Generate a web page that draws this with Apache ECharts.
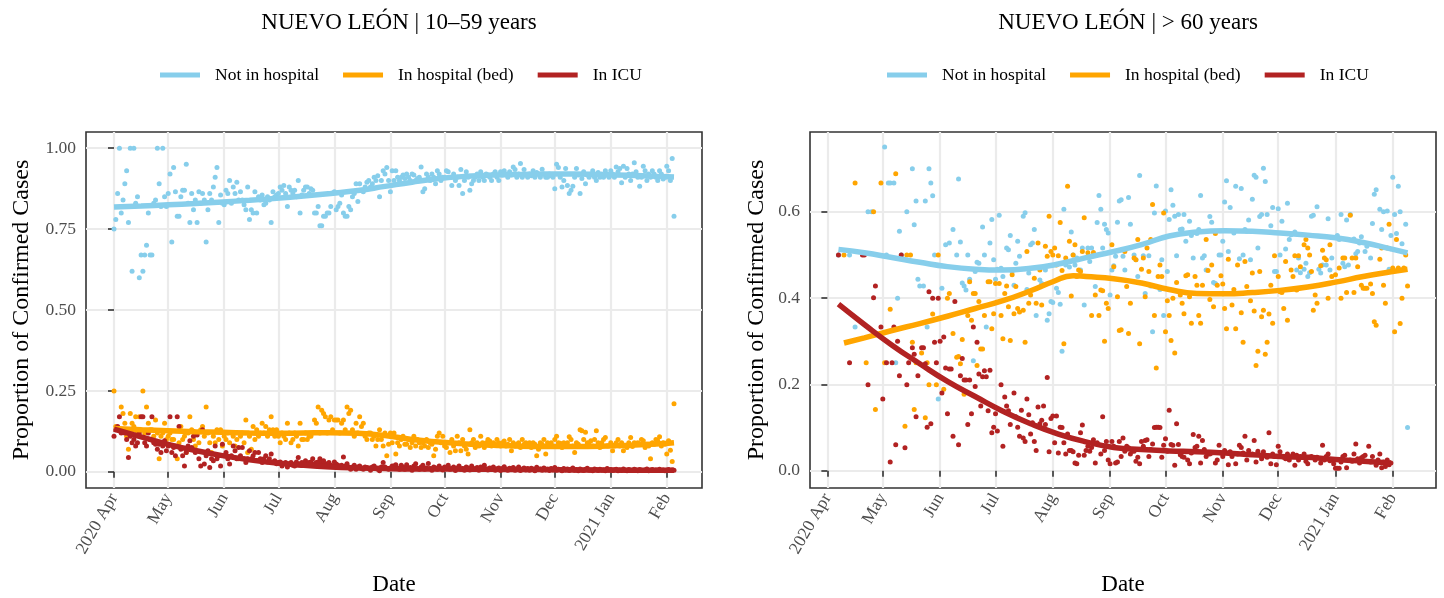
<!DOCTYPE html>
<html>
<head>
<meta charset="utf-8">
<title>Nuevo León</title>
<script src="https://cdn.jsdelivr.net/npm/echarts@6/dist/echarts.min.js"></script>
<style>
  html, body { margin: 0; padding: 0; background: #fff; }
  #container { width: 1444px; height: 598px; }
</style>
</head>
<body>
<div id="container"></div>
<script>
var _ = null

var startDate = '2020-04-01'
var monthTicks = ['2020-04-01', '2020-05-01', '2020-06-01', '2020-07-01', '2020-08-01', '2020-09-01',
  '2020-10-01', '2020-11-01', '2020-12-01', '2021-01-01', '2021-02-01']
var monthLabels = ['2020 Apr', 'May', 'Jun', 'Jul', 'Aug', 'Sep', 'Oct', 'Nov', 'Dec', '2021 Jan', 'Feb']
var statusNames = ['Not in hospital', 'In hospital (bed)', 'In ICU']
var panelTitles = ['NUEVO LEÓN | 10–59 years', 'NUEVO LEÓN | > 60 years']
var youngTicks = [0, 0.25, 0.5, 0.75, 1]
var oldTicks = [0, 0.2, 0.4, 0.6]

// 10-59 years, daily proportions (%) from day 0 = 2020-04-01
var youngStart = 0
var youngHome = [
  75, 78, 86, 100, 80, 84, 89, 93, 77, 100,
  62, 100, 83, 85, 60, 67, 62, 67, 70, 80,
  67, 67, 83, 84, 100, 89, 82, 100, 85, 82,
  86, 92, 71, 94, 86.5, 79, 79, 85, 87, 87,
  95, 83, 77, 86, 81, 84, 77, 86.5, 83, 86,
  84, 71, 81, 86, 84, 88, 91, 94, 77, 85.5,
  83, 82.5, 87, 86, 90, 83, 88, 86, 89.5, 84,
  86.5, 84, 82.5, 81, 88, 78, 81, 80, 86.5, 80,
  85, 84, 85.5, 82.5, 83, 85, 84, 77, 86.5, 85,
  85.5, 86, 88, 87, 88.5, 86, 82, 88, 87, 86,
  87, 85, 90, 80, 85.5, 87, 88, 88, 86, 87.5,
  87, 80, 80, 82, 76, 76, 79, 79, 80, 80,
  82, 86, 86.5, 81, 82, 83, 85.5, 80, 79, 79,
  82, 81, 85, 86, 89, 83.5, 89, 87, 86.5, 88,
  89.5, 90, 88, 89, 91, 90, 91.5, 85, 90, 93,
  92, 94, 90, 86.5, 93, 90, 93, 91, 90, 91,
  91.7, 90.6, 92, 91, 90, 92, 91.7, 90, 90.6, 91,
  94.2, 86.5, 87.5, 92, 91, 90, 92, 91, 89, 93,
  92, 90, 91, 91, 93, 92.7, 91, 88.5, 92, 90,
  91, 88.5, 93.4, 86, 90, 92.7, 91, 87, 89, 90,
  91, 92, 90, 92.7, 91, 90, 92, 91.7, 91, 90,
  92, 92.7, 91, 90, 92.7, 91.7, 93, 92, 91, 92.7,
  91.7, 94.2, 93.4, 91, 92, 95.3, 91, 93.4, 91.7, 91,
  92, 91.5, 93, 91, 92.5, 92, 91, 93.5, 92, 91,
  91, 92, 91.5, 91, 87.5, 95, 94, 91, 88, 90,
  93.7, 88.5, 86, 87, 88.2, 91, 93.7, 91.7, 86, 90.6,
  92.7, 89, 91.7, 91, 92, 93, 91, 90, 92.5, 91,
  92, 91, 93, 92, 91, 93, 92, 91, 94.2, 92.7,
  93.7, 89.3, 94.4, 91, 93.7, 92, 90, 92, 95.5, 92.7,
  91, 88.2, 91, 94.4, 93, 90, 92, 91, 93, 92,
  91, 90, 93, 92, 90.5, 91, 94.4, 93, 90, 96.8, 79
]
var youngBed = [
  25, 14, 13, 13, 20, 18, 15, 11, 7, 18,
  15, 14, 17, 12, 17, 13, 25, 12, 20, 15,
  13, 13, 11, 16, 12, 4, 11, 12, 15, 10,
  11, 12, 10, 10, 8, 4, 9, 14, 10, 11,
  6, 12, 17, 13, 10, 8, 12, 9, 13, 14,
  11, 20, 12, 9, 6, 11, 9, 13, 10, 13,
  8, 11, 10, 12, 9, 12, 11, 8, 10, 4,
  11, 12, 9, 16, 6, 11, 7, 14, 10, 13,
  11, 12, 15, 12, 14, 11, 13, 17, 13, 11,
  13, 11, 9, 12, 11, 10, 15, 12, 9, 10,
  12, 11, 8, 15, 10, 10, 12, 10, 11, 11,
  12, 16, 15, 20, 12, 19, 18, 17, 12, 16,
  17, 13, 16, 16, 16, 12, 15, 16, 13, 20,
  18, 19, 13, 11, 15, 12, 17, 14, 15, 11,
  10, 12, 12, 10, 11, 8, 10, 13, 10, 8,
  12, 5, 8.5, 12, 9, 12, 5.5, 9, 8, 10,
  11, 8.5, 8.5, 10, 7.5, 9, 11, 8, 10, 9,
  7.5, 9, 8, 10, 7.5, 9, 8.5, 5, 7, 11,
  12, 9, 11, 8, 7.5, 9, 6, 10, 8, 6.5,
  11, 9, 6.5, 10, 8, 7, 5.5, 13, 9, 10,
  7.5, 9, 8, 11, 9, 7.5, 9, 10, 9.5, 8,
  9, 8.5, 10, 9, 8, 9, 9.5, 8, 8.5, 10,
  6.5, 9, 8, 8.5, 9, 7.5, 10, 8.5, 9, 8,
  9, 7.5, 9, 8.5, 5, 7, 9, 8.5, 10, 5.5,
  9, 8, 9, 8, 10, 11, 9, 8.8, 7.5, 9,
  8.5, 9, 10.8, 10, 8, 6, 9, 8.5, 13, 12.7,
  10, 12.2, 9, 9, 9.6, 8, 10, 12.7, 9, 7.5,
  9, 10, 10.6, 8, 8, 9, 6.5, 8, 9, 10,
  8, 9, 6.5, 8, 7.5, 9, 10.6, 7.8, 9, 8.8,
  9, 8.5, 10, 9.6, 7.5, 8.5, 8, 4, 9, 8.5,
  10, 9.6, 10.8, 8, 9, 8.5, 5.5, 9.6, 6.7, 3.2, 21
]
var youngIcu = [
  11, 13, 14, 17, 12, 13, 12, 10, 4.4, 11,
  9, 10, 8, 9, 12, 17, 17, 9, 8, 12,
  10, 17, 9, 8.5, 7, 8.5, 6, 8, 9.6, 6.5,
  8, 17, 6, 7.5, 5, 17, 14, 7, 5, 1.8,
  6, 8, 9.6, 7.5, 11, 6, 11.4, 4, 1.8, 13,
  2.4, 5, 6.5, 1.3, 4, 3.4, 8, 4, 5, 1.8,
  8.5, 5, 6, 4, 2.4, 5, 8, 6.5, 4, 7.5,
  5, 7.5, 4, 2.9, 4, 6.5, 4, 5, 6, 3.5,
  6, 4, 2.9, 4, 5, 3, 4, 5.5, 3, 3.4,
  2.5, 2.9, 3, 1.8, 2.5, 2.9, 1.5, 2.5, 2.9, 2,
  1.8, 3, 4.4, 2.5, 2.9, 2, 3.4, 2.5, 2.9, 3,
  4, 2.5, 2.9, 3, 4, 2.9, 3.4, 2.5, 2.4, 2.9,
  2, 1.8, 3, 2.4, 2, 1.3, 2, 4.6, 1.8, 2.5,
  1.5, 0.8, 1.5, 2, 0.8, 1.5, 1.8, 1, 0.8, 1.5,
  1.3, 1, 0.5, 1.5, 1.8, 1.1, 0.8, 0.3, 1.5, 2.9,
  1.5, 1.1, 0.8, 1.2, 1.8, 1.8, 2.2, 1.2, 0.8, 2,
  1.5, 0.8, 2.2, 1, 1.3, 0.5, 1.8, 2.5, 1, 0.8,
  1.5, 2, 0.8, 1.2, 2.6, 1, 0.5, 1.5, 1.2, 0.8,
  1.8, 1, 0.6, 1.5, 1.2, 2, 0.8, 1, 1.5, 0.4,
  1.2, 1.8, 0.8, 1, 0.5, 1.5, 1.2, 0.6, 1.8, 1,
  0.8, 1.3, 0.5, 1.5, 1, 2, 0.8, 0.6, 1.2, 1,
  1.5, 0.5, 0.9, 1.2, 0.4, 1, 1.6, 0.8, 0.5, 1.1,
  0.7, 1.3, 0.5, 0.9, 1.5, 0.4, 0.8, 1.2, 0.6, 1,
  0.5, 1.1, 0.8, 0.3, 1.4, 0.7, 0.9, 0.5, 1.2, 0.6,
  0.8, 0.4, 1, 0.6, 1.3, 0.5, 0.8, 0.7, 0.3, 1,
  0.6, 0.9, 0.4, 0.8, 1.2, 0.5, 0.7, 0.3, 0.9, 0.6,
  0.4, 0.8, 1.1, 0.5, 0.6, 0.3, 0.9, 0.7, 0.4, 0.8,
  0.5, 0.6, 0.3, 1, 0.5, 0.7, 0.4, 0.6, 0.8, 0.3,
  0.6, 0.4, 0.9, 0.5, 0.3, 0.7, 0.5, 0.4, 0.8, 0.6,
  0.3, 0.7, 0.5, 0.4, 0.6, 0.9, 0.3, 0.5, 0.7, 0.4,
  0.6, 0.5, 0.8, 0.4, 0.6, 0.3, 0.5, 0.7, 0.4, 0.6, 0.5
]

// loess fits (%), 10-59 years
var youngFitDays = [0, 15, 30, 45, 60, 75, 90, 105, 120, 135, 150, 165, 180, 195, 210, 225, 240, 255, 270, 285, 300, 310]
var youngHomeFit = [81.8, 82.1, 82.5, 82.9, 83.4, 83.9, 84.5, 85.2, 86, 86.9, 88.2, 89.5, 90.6, 91.3, 91.7, 91.9, 92, 92, 91.8, 91.6, 91.3, 91.1]
var youngBedFit = [13.4, 13, 12.7, 12.4, 12.2, 12, 11.9, 12, 12.1, 11.9, 11.2, 10, 9.2, 8.6, 8.2, 7.9, 7.8, 7.8, 7.9, 8.2, 8.6, 9]
var youngIcuFit = [13.2, 10.8, 8.5, 6.6, 5, 3.7, 2.7, 2, 1.5, 1.2, 1, 0.9, 0.9, 0.8, 0.8, 0.7, 0.7, 0.6, 0.6, 0.5, 0.5, 0.5]

// > 60 years, daily proportions (%) from day 6 = 2020-04-07
var oldStart = 6
var oldHome = [
  50, _, _, _,
  _, _, 50, _, _, 33.3, _, _, _, _,
  _, _, 60, _, 60, _, _, _, _, _,
  _, 75, 50, 66.7, 66.7, _, 66.7, 25, 40, 55.5,
  50, _, _, 60, _, _, 70, 57, 62.5, 44.4,
  42.8, _, 42.8, 62.5, 33.3, 70, 66.7, 63.7, 50, _,
  16.6, _, 42.3, _, 52.4, _, 52.8, _, 55.9, _,
  50, 67.6, 53, 43.5, 42.8, 41.9, 50, 44.4, _, 25.5,
  46.2, 48.3, 48.1, _, 56.5, 50, 33.3, _, 52.8, 58.2,
  48.9, 44.4, 46.7, 59.2, 46.9, 45, _, 51.6, 51.2, 54.5,
  46.2, 43, 48.1, 53.2, 49.7, _, 59, 59.8, 42, 45.8,
  52.4, 52.8, 55.9, 36, _, 44.2, 43.4, _, 46.5, 34.9,
  36.4, 39.2, 39, _, 42.3, 41.3, 38.6, 27.7, 60.6, 47.7,
  _, 47.2, 55.3, 50, 47.7, 49.3, _, 46.5, 51.6, 38.4,
  _, 51.6, 48.5, 51.6, _, 42.7, 57.5, 63.8, 60.6, 51.6,
  57.1, 55.9, 55.1, 40.7, 46.5, 47.5, 49.7, 57.6, 62.5, 62.8,
  49.7, 46.5, _, 63.3, 57.1, _, 50, 48.9, 45, 68.4,
  _, 49.8, 41.1, _, 49.8, 42.8, 32.2, 59.7, 66, _,
  42, 48.9, 36, 60.2, 46.2, 58.2, 65.1, 61.5, 59, 49.8,
  59.4, 55.9, 56, 59.4, 53.2, _, 57.8, 54.5, 49.3, _,
  55, 55.9, 63.8, 49.3, 49.8, 46.5, _, 58.9, 57.6, 43.6,
  43.4, _, 50, 50, 53.2, 62.3, 67.2, 50.8, 61, _,
  55.1, 65.9, _, 49.1, 65.4, 50, 55.9, 55.5, 58.1, 48.9,
  62.9, 68.5, 68, 51.6, 58.9, 59.4, 70.1, 67, 59.4, _,
  56.8, 61, 46.2, 46.2, 60.7, 50, 57.8, _, 51.4, 62,
  53.6, 54.7, _, 55.3, 46.5, 49.3, 45.9, _, 46.7, 48.1,
  45, 45.9, 59, 59.2, _, 61.2, 46.7, 45.8, 47.7, _,
  47.7, 58.4, 46.5, 49.3, _, _, 54.5, 53.6, 59.4, 48.1,
  47.3, 58.1, 47.7, 59.4, _, 53.7, 50.3, 50.8, 52.8, 54.2,
  _, 50.8, 52, _, 49.3, 57.3, 64.1, 65.1, _, 60.6,
  55.9, 60, _, 60.2, 46.7, 54.5, 68, 59.4, 55, 65.9,
  60, 52.6, _, 57.1, 10
]
var oldBed = [
  _, _, _, 50,
  _, _, _, _, _, 66.7, _, _, _, _,
  _, 25, _, _, _, 60, 14.2, _, _, 66.7,
  _, 25, _, _, 37.4, _, _, 68.8, _, _,
  _, _, 10.3, 50, _, 50, 29.8, 14.2, 25, _,
  _, 27.3, _, 12.3, 25, 19.9, _, 36.3, _, 19.9,
  50, _, _, 18.9, _, 40, 41.1, _, 31.8, _,
  26.3, 26.5, 24.8, 30.4, 17.7, _, 36, 43.8, 34.9, 41.1,
  41.1, 24.4, 39.2, 28.2, 28.2, 36, _, 43.8, 43.8, 32.9,
  36.4, 43.4, _, 43.4, 36, 30.6, 41.1, 42.8, 38, 30.2,
  45.4, 36.4, 42.7, 37.6, 36.8, _, 37.2, 29.8, 50.8, 38.8,
  40.7, _, 44.6, 38.8, 52.8, 46.5, 38.4, _, 52, 49.7,
  59, 50.8, 50, 51.6, 47.7, 49.8, 57.5, 46.4, 29.4, 49.3,
  65.9, 53.2, 40.5, 50, 52.4, 45, 46.5, 46.2, 50.8, 58.6,
  45, 50.5, _, 36, 50.6, 40.7, _, 36, 41.9, 41.7,
  30, 38.8, 37.6, _, 52.4, 47.3, _, 40.3, 32.5, 32.7,
  _, 50.8, 42.7, 31.8, 38.8, _, 49.3, 48.9, 53.6, 29.4,
  46.7, 49.3, 40.3, 51.6, 46.2, 53.6, 61.7, 36, 23.8, 45,
  47.7, 45, 59.7, 32.2, 39.4, 36, 30.2, 40, 27.3, 43.6,
  _, 40.7, 38.8, 36.4, 45.2, 45.4, 40.3, 34.2, _, 45,
  43, 36, 34.2, 43, _, 53.6, 46.4, 39.7, 47.7, 38,
  55, 43, _, 45.2, 43.3, 37.6, 32.9, 49, _, 38.4,
  42, 32.9, 47.7, _, 36.6, 29.8, 48.5, 42.7, _, 39.4,
  45.8, 37, 24.4, 27.7, 46.2, 35.7, 37.2, 27, 29.8, 36.3,
  43, 34.2, 49.8, _, 45, 41.5, 41.3, 37.6, 48.5, 34.9,
  _, 46.5, 45, 49.8, 41.9, 49.8, 47.3, _, 52.4, 53.6,
  51.6, 50, 46.2, 37.2, 40.7, 38.8, _, 47.5, 51.1, 49.3,
  48.9, 40, 52.4, 45, _, 45.4, _, 47, 40, 49.3,
  49.3, 41.3, _, 59.2, 49.3, 41.3, 49.3, 47.3, _, 43,
  42.3, 42.3, 42.3, _, 43.3, 41.1, 34.5, 33.7, _, 49,
  51.6, 43, 38.8, 51.6, 57.1, _, 47, 32.2, 53.6, 47,
  34.1, 40, 47, 50, 42.8
]
var oldIcu = [
  50, _, _, _,
  _, _, 25, _, _, _, _, _, _, 50,
  50, _, 19.9, _, _, 40.1, 42.8, _, _, 33.3,
  16.6, _, 25, _, 2, 25, 33.3, 6, 30, 22,
  50, _, 5.3, 19.9, 25, _, 28.5, 27, 12.5, 22,
  _, 28.5, 28.5, 24.8, 10.1, 41.5, 10.9, 40, 29.8, 25,
  40, 30, 18, 31, 23.8, 13.2, 23.6, 23.6, 8, 39.2,
  _, 6, 22, 26, 21, 21, 10.7, 21, 13.2, 33.3,
  19.5, 29.8, 22.4, 15, 21.8, 23.2, 21.8, 13.9, 23.3, 8.8,
  10.1, 13.2, 9.2, _, 19.9, 5.7, 17.1, 15, 13.9, 10.7,
  _, 18, 12.5, 10.1, 8, 14, 7.6, 6.8, 16.6, 13,
  8.5, 11.1, 6.8, 4.7, 14.8, 10.9, 11.7, 15, 10.7, 21.6,
  4.4, 12.1, 12.7, 6.5, 12.7, 4.1, 10.1, 10, 6.5, 3.9,
  8.5, 4.7, 4.7, 4.4, 1.8, 1.6, 3.6, 8.8, 10.6, 3.6,
  4.7, 5.7, 4.5, 5.4, 7.2, 1.8, 6.5, _, 3.9, 12.5,
  4.7, 6.8, 2.5, 1.6, 6.8, 5.7, 1.8, 2, 6.8, 3.3,
  7.6, 4.5, 5.7, 5.3, 3.9, 4.5, 4.5, 2.2, 3.1, 1.6,
  6.8, 5.7, 7, 7.2, 3.3, 4.9, 6.2, 10, 10.1, 10.1,
  10, 3.1, 5.9, 7.4, 4.5, 14, 6.1, 5.9, 1.3, 10.9,
  6.1, 3.7, 3.3, 3.1, 4.4, 2.5, 1.6, 4.1, 8.4, 5.4,
  5.7, 8, 1.8, 7, 4.9, 3.3, 3.9, 3.9, 4.1, _,
  1.8, 2.5, 5.9, 4.1, 3.3, 4.7, _, 1.4, 4.4, 3.3,
  _, 1.6, 3.9, 5.9, 5.4, 4.1, 8, 2.5, 4.7, _,
  3.9, 7, 2, 4.5, _, 2.8, 4.4, _, 3.1, 8.8,
  1.6, 3.9, 3.3, 1.4, 5.7, 4.4, _, 3.1, 2.8, 3.9,
  2.5, _, 3.9, 1.3, 3.6, 2.5, 3.3, _, 3.9, 2.2,
  1.6, 3.1, 3.3, _, 2.5, 3.1, _, 1.8, 5.9, 2.5,
  3.3, 3.9, 2.3, _, 1.6, 0.6, 0.6, 0.6, 2, 3.3,
  3.6, 0.7, _, 2.5, 2.2, 3.9, 6.2, 2.8, 1.8, 3,
  3.3, 3.6, _, 5.7, 2, 3.3, _, 1.3, 2.5, 3.9,
  0.7, 2, 1, 2.5, 1.4, 1.8
]

// loess fits (%), > 60 years
var oldHomeFitDays = [6, 20, 35, 50, 65, 80, 95, 110, 125, 140, 155, 170, 185, 200, 215, 230, 245, 260, 275, 290, 305, 314]
var oldHomeFit = [51.3, 50.5, 49.4, 48.3, 47.3, 46.7, 46.5, 46.9, 47.9, 49.4, 50.8, 52.4, 54.4, 55.3, 55.6, 55.5, 55.1, 54.6, 54, 52.9, 51.4, 50.5]
var oldBedFitDays = [9, 20, 35, 50, 65, 80, 95, 110, 122, 133, 140, 155, 170, 185, 200, 215, 230, 245, 260, 275, 290, 305, 314]
var oldBedFit = [29.6, 30.8, 32.5, 34.1, 35.8, 37.6, 39.4, 41.7, 43.8, 45.2, 45, 44.5, 43.5, 42, 41.1, 41, 41.3, 41.8, 42.6, 43.7, 45, 46.1, 46.7]
var oldIcuFitDays = [6, 20, 35, 50, 65, 80, 95, 110, 125, 140, 155, 170, 185, 200, 215, 230, 245, 260, 275, 290, 305]
var oldIcuFit = [38.6, 33.9, 29.1, 24.8, 20.7, 17.2, 13.8, 10.9, 8.5, 6.7, 5.4, 4.9, 4.6, 4.4, 4.1, 3.7, 3.3, 3.1, 2.6, 2.2, 1.8]

;(function() {

  var dom = document.getElementById('container')
  var myChart = echarts.init(dom)
  var colors = ['#87ceeb', '#ffa500', '#b22222']
  var font = '"Liberation Serif", "Times New Roman", serif'
  var t0 = Date.parse(startDate)

  function toDay(s) {
    return Math.round((Date.parse(s) - t0) / 86400000)
  }
  var tickDays = monthTicks.map(toDay)

  function points(values, first) {
    var out = []
    for (var i = 0; i < values.length; i++) {
      if (values[i] !== null) out.push([first + i, values[i] / 100])
    }
    return out
  }

  function fit(days, values) {
    return days.map(function(d, i) { return [d, values[i] / 100] })
  }

  var panels = [
    {
      grid: { left: 86, right: 742, top: 132, bottom: 110 },
      xRange: [-15.5, 325.5],
      yRange: [-0.05, 1.05],
      yTicks: youngTicks,
      digits: 2,
      nameGap: 52,
      pts: [points(youngHome, youngStart), points(youngBed, youngStart), points(youngIcu, youngStart)],
      fits: [fit(youngFitDays, youngHomeFit), fit(youngFitDays, youngBedFit), fit(youngFitDays, youngIcuFit)],
      titleX: 394,
      legendX: 160
    },
    {
      grid: { left: 810, right: 8, top: 132, bottom: 110 },
      xRange: [-9.4, 329.4],
      yRange: [-0.04, 0.785],
      yTicks: oldTicks,
      digits: 1,
      nameGap: 41,
      pts: [points(oldHome, oldStart), points(oldBed, oldStart), points(oldIcu, oldStart)],
      fits: [fit(oldHomeFitDays, oldHomeFit), fit(oldBedFitDays, oldBedFit), fit(oldIcuFitDays, oldIcuFit)],
      titleX: 1123,
      legendX: 887
    }
  ]

  var tickStyle = { color: '#333333', width: 1.6 }
  var gridLine = { show: true, lineStyle: { color: '#ebebeb', width: 2.2 } }
  var labelStyle = { fontFamily: font, fontSize: 17.5, color: '#4d4d4d' }

  var grids = [], xAxes = [], yAxes = [], titles = [], legends = [], series = []

  panels.forEach(function(p, k) {
    grids.push({
      left: p.grid.left, right: p.grid.right, top: p.grid.top, bottom: p.grid.bottom,
      show: true, borderColor: '#333333', borderWidth: 1.6, backgroundColor: '#ffffff',
      containLabel: false, outerBoundsMode: 'none'
    })
    xAxes.push({
      type: 'value', gridIndex: k, min: p.xRange[0], max: p.xRange[1],
      name: 'Date', nameLocation: 'middle', nameGap: 85,
      nameTextStyle: { fontFamily: font, fontSize: 23, color: '#000' },
      axisLine: { show: false },
      axisTick: { show: true, customValues: tickDays, length: 6, lineStyle: tickStyle },
      axisLabel: Object.assign({
        customValues: tickDays, rotate: 60, margin: 7,
        formatter: function(v) { return monthLabels[tickDays.indexOf(v)] }
      }, labelStyle),
      splitLine: gridLine
    })
    yAxes.push({
      type: 'value', gridIndex: k, min: p.yRange[0], max: p.yRange[1],
      name: 'Proportion of Confirmed Cases', nameLocation: 'middle', nameGap: p.nameGap,
      nameTextStyle: { fontFamily: font, fontSize: 24, color: '#000' },
      axisLine: { show: false },
      axisTick: { show: true, customValues: p.yTicks, length: 6, lineStyle: tickStyle },
      axisLabel: Object.assign({
        customValues: p.yTicks, margin: 10,
        formatter: function(v) { return v.toFixed(p.digits) }
      }, labelStyle),
      splitLine: gridLine
    })
    titles.push({
      text: panelTitles[k], left: p.titleX, top: 6, textAlign: 'center',
      textStyle: { fontFamily: font, fontSize: 23, fontWeight: 'normal', color: '#000' }
    })
    legends.push({
      data: statusNames, left: p.legendX, top: 66, padding: 0,
      icon: 'rect', itemWidth: 40, itemHeight: 5, itemGap: 24,
      textStyle: { fontFamily: font, fontSize: 17.5, color: '#000', padding: [0, 0, 0, 10] }
    })
    p.pts.forEach(function(d, s) {
      series.push({
        name: statusNames[s], type: 'scatter', xAxisIndex: k, yAxisIndex: k,
        data: d, symbolSize: 5, itemStyle: { color: colors[s], opacity: 1 }, z: 2
      })
    })
    p.fits.forEach(function(d, s) {
      series.push({
        name: statusNames[s], type: 'line', xAxisIndex: k, yAxisIndex: k,
        data: d, smooth: 0.5, showSymbol: false, symbol: 'none',
        lineStyle: { color: colors[s], width: 5.5 }, itemStyle: { color: colors[s] }, z: 3
      })
    })
  })

  myChart.setOption({
    animation: false,
    backgroundColor: '#ffffff',
    title: titles,
    legend: legends,
    grid: grids,
    xAxis: xAxes,
    yAxis: yAxes,
    series: series
  })
})()
</script>
</body>
</html>
